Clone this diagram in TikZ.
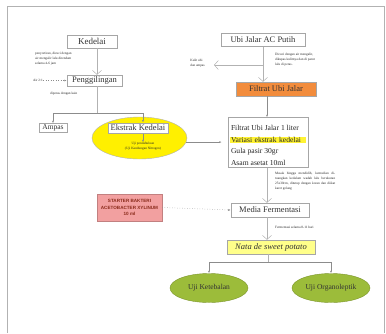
\documentclass[tikz,border=0pt]{standalone}
\usepackage{fontspec}
\setmainfont{Liberation Serif}
\setsansfont{Liberation Sans}
\usetikzlibrary{arrows.meta,shapes.geometric}
\definecolor{ylw}{HTML}{FFF000}
\definecolor{lylw}{HTML}{FFFF8A}
\definecolor{orng}{HTML}{F28C3C}
\definecolor{pnk}{HTML}{F2A0A0}
\definecolor{dred}{HTML}{8A2A1A}
\definecolor{grn}{HTML}{9CBC3A}
\begin{document}
\begin{tikzpicture}[x=1pt,y=-1pt,
  bx/.style={draw=black!35, fill=white, inner sep=0pt, line width=0.5pt,
    font=\fontsize{8.5}{10}\selectfont, text=black!80},
  ln/.style={draw=black!30, line width=0.5pt},
  vh/.style={ln, -{Straight Barb[length=4pt,width=9pt,line width=0.5pt]}},
  sh/.style={ln, draw=black!45, -{Latex[length=2.5pt,width=2pt]}},
  tiny/.style={font=\fontsize{3.4}{4.9}\selectfont, text=black!85, inner sep=0pt, align=left},
  mixline/.style={anchor=west, inner sep=0.8pt, font=\fontsize{7.6}{9}\selectfont, text=black!85},
  gell/.style={ellipse, draw=grn!80!black, fill=grn, inner sep=0pt, minimum width=78, minimum height=29,
    font=\fontsize{7.5}{9}\selectfont, text=black!80},
]
\useasboundingbox (0,0) rectangle (386,333);
% frame
\draw[black!30, line width=0.6pt] (7,333) -- (7,6) -- (384,6) -- (384,333);

% left column
\node[bx, minimum width=50, minimum height=13, font=\fontsize{9}{10}\selectfont] (kedelai) at (92,41.5) {Kedelai};
\node[bx, minimum width=55, minimum height=11] (peng) at (94.5,80.5) {Penggilingan};
\node[bx, minimum width=28, minimum height=9, font=\fontsize{7.5}{8}\selectfont] (ampas) at (53,128) {Ampas};
\node[ellipse, draw=black!30, fill=ylw, minimum width=95, minimum height=42, inner sep=0pt] (ell) at (139.5,138) {};
\node[bx, minimum width=60, minimum height=10.5] (ekstrak) at (138,128) {Ekstrak Kedelai};
\node[tiny, align=center] (ujip) at (143,146.5) {Uji pendahuluan\\(Uji Kandungan Nitrogen)};

\node[tiny, anchor=north west] (n1) at (35,52) {penyortiran, dicuci dengan\\air mengalir lalu direndam\\selama 4-6 jam};
\node[tiny, anchor=east] (air) at (43,80.5) {Air 2:1};
\node[tiny, anchor=west] (dip) at (50,93.5) {diperas dengan kain};

% right column
\node[bx, minimum width=84, minimum height=13] (ubi) at (263,40) {Ubi Jalar AC Putih};
\node[bx, fill=orng, minimum width=80, minimum height=14] (filtrat) at (276,89) {Filtrat Ubi Jalar};
\node[tiny, anchor=east] (kulit) at (205,63.5) {Kulit ubi\\dan ampas};
\node[tiny, anchor=north west] (n2) at (275,53) {Dicuci dengan air mengalir,\\dikupas kulitnya dan di parut\\lalu di peras.};

\node[bx, minimum width=80, minimum height=50] (mix) at (268,142.5) {};
\node[mixline] (m1) at (230,128) {Filtrat Ubi Jalar 1 liter};
\node[mixline, fill=ylw!80, text width=74.4, align=left] (m2) at (230,140) {Variasi ekstrak kedelai};
\node[mixline] (m3) at (230,152) {Gula pasir 30gr};
\node[mixline] (m4) at (230,163) {Asam asetat 10ml};

\node[tiny, anchor=north west, text width=60, align=justify] (n3) at (275,172) {Masak hingga mendidih, kemudian dituangkan kedalam wadah lalu berukuran 25x30cm, ditutup dengan koran dan diikat karet gelang};

\node[draw=pnk!80!black, fill=pnk, minimum width=65, minimum height=27, inner sep=0pt, align=center,
  font=\sffamily\bfseries\fontsize{4.6}{6.5}\selectfont, text=dred] (starter) at (129.5,207.5)
  {STARTER BAKTERI\\ACETOBACTER XYLINUM\\10 ml};
\node[bx, minimum width=78, minimum height=14] (media) at (270,210) {Media Fermentasi};
\node[tiny, anchor=west] (ferm) at (275,227) {Fermentasi selama 8-11 hari};
\node[bx, fill=lylw, minimum width=88, minimum height=14, font=\itshape\fontsize{8.5}{10}\selectfont] (nata) at (271,247) {Nata de sweet potato};
\node[gell] (uk) at (209,288) {Uji Ketebalan};
\node[gell] (uo) at (331,288) {Uji Organoleptik};

% connectors
\coordinate (pv) at (97,0);
\draw[vh] (kedelai.south -| pv) -- (peng.north -| pv);
\draw[sh, dotted] (air.east) -- (peng.west);
\coordinate (j1) at (97,113);
\coordinate (ex) at (143,0);
\draw[ln] (peng.south -| j1) -- (j1);
\draw[sh] (j1) -| (ampas.north);
\draw[sh] (j1) -| (ekstrak.north -| ex);
\draw[sh] (ekstrak.south -| ex) -- (ujip.north -| ex);
\draw[sh, shorten >=6pt] (ell.355) -- (mix.west |- ell.355);

\coordinate (rv) at (263,0);
\coordinate (kb) at (263,65);
\coordinate (kt) at (214,65);
\draw[vh] (ubi.south -| rv) -- (filtrat.north -| rv);
\draw[vh] (kb) -- (kt);
\coordinate (mv) at (267,0);
\draw[sh] (filtrat.south -| mv) -- (mix.north -| mv);
\draw[vh] (mix.south -| mv) -- (media.north -| mv);
\draw[sh, dotted] (starter.east) -- (media.west);
\draw[vh] (media.south -| mv) -- (nata.north -| mv);
\coordinate (j2) at (268,262);
\draw[ln] (nata.south -| j2) -- (j2);
\draw[sh] (j2) -| (uk.north);
\draw[sh] (j2) -| (uo.north);
\end{tikzpicture}
\end{document}
